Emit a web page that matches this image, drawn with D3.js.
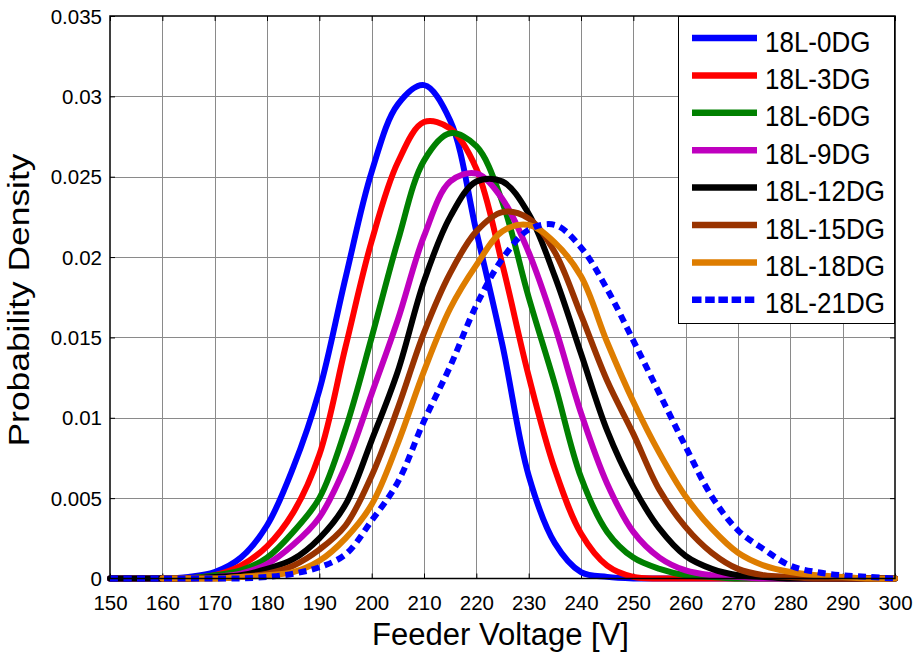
<!DOCTYPE html>
<html>
<head>
<meta charset="utf-8">
<script src="https://cdn.jsdelivr.net/npm/d3@7"></script>
<style>
  html, body { margin: 0; padding: 0; background: #fff; }
  svg { display: block; }
  text { font-family: "Liberation Sans", Arial, Helvetica, sans-serif; fill: #000; }
</style>
</head>
<body>
<svg id="chart" width="917" height="661"></svg>
<script>
// Feeder voltage grid (V)
const voltage = [150,155,160,165,170,175,180,185,190,195,200,205,210,215,220,225,230,235,240,245,250,255,260,265,270,275,280,285,290,295,300];

// Probability density per DG penetration case
const dg0  = [0,0,0,0.0001,0.0004,0.0013,0.0033,0.0069,0.0117,0.0187,0.0253,0.0295,0.0307,0.0285,0.0216,0.0145,0.0064,0.0022,0.0004,0.0001,0,0,0,0,0,0,0,0,0,0,0];
const dg3  = [0,0,0,0,0.0002,0.0008,0.0020,0.0041,0.0077,0.0144,0.0210,0.0259,0.0284,0.0280,0.0255,0.0195,0.0126,0.0068,0.0028,0.0008,0.0001,0,0,0,0,0,0,0,0,0,0];
const dg6  = [0,0,0,0,0.0002,0.0005,0.0013,0.0029,0.0050,0.0093,0.0150,0.0210,0.0260,0.0277,0.0269,0.0234,0.0175,0.0121,0.0063,0.0029,0.0013,0.0006,0.0002,0.0001,0,0,0,0,0,0,0];
const dg9  = [0,0,0,0,0.0001,0.0003,0.0009,0.0021,0.0038,0.0070,0.0115,0.0161,0.0213,0.0247,0.0252,0.0236,0.0203,0.0157,0.0103,0.0059,0.0029,0.0013,0.0005,0.0002,0.0001,0,0,0,0,0,0];
const dg12 = [0,0,0,0,0.0001,0.0002,0.0006,0.0012,0.0025,0.0046,0.0086,0.0129,0.0185,0.0225,0.0247,0.0247,0.0227,0.0188,0.0140,0.0092,0.0057,0.0031,0.0014,0.0006,0.0002,0.0001,0,0,0,0,0];
const dg15 = [null,null,0,0,0,0.0001,0.0003,0.0008,0.0018,0.0033,0.0064,0.0106,0.0153,0.0190,0.0216,0.0228,0.0224,0.0203,0.0164,0.0123,0.0090,0.0055,0.0032,0.0016,0.0006,0.0002,0.0001,0,0,0,0];
const dg18 = [null,null,0,0,0,0.0001,0.0002,0.0004,0.0011,0.0025,0.0046,0.0084,0.0129,0.0168,0.0195,0.0216,0.0220,0.0209,0.0188,0.0147,0.0110,0.0078,0.0051,0.0031,0.0016,0.0008,0.0004,0.0002,0.0001,0,0];
const dg21 = [0,0,0,0,0,0,0.0001,0.0003,0.0007,0.0015,0.0036,0.0060,0.0098,0.0132,0.0170,0.0199,0.0217,0.0220,0.0206,0.0180,0.0148,0.0115,0.0082,0.0051,0.0030,0.0018,0.0008,0.0004,0.0002,0.0001,0];

const seriesNames  = ["18L-0DG","18L-3DG","18L-6DG","18L-9DG","18L-12DG","18L-15DG","18L-18DG","18L-21DG"];
const seriesValues = [dg0, dg3, dg6, dg9, dg12, dg15, dg18, dg21];
const seriesColors = ["#0000ff","#ff0000","#008000","#bf00bf","#000000","#993300","#de7d00","#0000ff"];
const seriesDashed = [false,false,false,false,false,false,false,true];

const xTicks = [150,160,170,180,190,200,210,220,230,240,250,260,270,280,290,300];
const yTicks = [0,0.005,0.01,0.015,0.02,0.025,0.03,0.035];
const yTickLabels = ["0","0.005","0.01","0.015","0.02","0.025","0.03","0.035"];

const xTitle = "Feeder Voltage [V]";
const yTitle = "Probability Density";

// ---- layout ----
const plot = { left: 110, right: 895, top: 16, bottom: 578.5 };
const svg = d3.select("#chart");

const x = d3.scaleLinear().domain([150, 300]).range([plot.left, plot.right]);
const y = d3.scaleLinear().domain([0, 0.035]).range([plot.bottom, plot.top]);

// white plotting area
svg.append("rect")
  .attr("x", plot.left).attr("y", plot.top)
  .attr("width", plot.right - plot.left).attr("height", plot.bottom - plot.top)
  .attr("fill", "#fff");

// grid lines
const grid = svg.append("g").attr("stroke", "#8a8a8a").attr("stroke-width", 1);
grid.selectAll("line.vx").data(xTicks.slice(1, -1)).join("line")
  .attr("x1", d => Math.round(x(d)) + 0.5).attr("x2", d => Math.round(x(d)) + 0.5)
  .attr("y1", plot.top).attr("y2", plot.bottom);
grid.selectAll("line.hy").data(yTicks.slice(1, -1)).join("line")
  .attr("y1", d => Math.round(y(d)) + 0.5).attr("y2", d => Math.round(y(d)) + 0.5)
  .attr("x1", plot.left).attr("x2", plot.right);

// axes: bottom / left carry labels, top / right only inner ticks
const tickLen = 5;
const xAxis = svg.append("g")
  .attr("transform", `translate(0,${plot.bottom})`)
  .call(d3.axisBottom(x).tickValues(xTicks).tickSize(-tickLen).tickSizeOuter(0).tickFormat(d3.format("d")));
const yAxis = svg.append("g")
  .attr("transform", `translate(${plot.left},0)`)
  .call(d3.axisLeft(y).tickValues(yTicks).tickSize(-tickLen).tickSizeOuter(0).tickFormat((d, i) => yTickLabels[i]));
svg.append("g")
  .attr("transform", `translate(0,${plot.top})`)
  .call(d3.axisTop(x).tickValues(xTicks).tickSize(-tickLen).tickSizeOuter(0).tickFormat(""));
svg.append("g")
  .attr("transform", `translate(${plot.right},0)`)
  .call(d3.axisRight(y).tickValues(yTicks).tickSize(-tickLen).tickSizeOuter(0).tickFormat(""));

svg.selectAll(".domain").remove();
svg.selectAll(".tick line").attr("stroke", "#000").attr("stroke-width", 1);

xAxis.selectAll(".tick text")
  .attr("y", 31.5).attr("dy", 0)
  .attr("font-size", 20.5);
yAxis.selectAll(".tick text")
  .attr("x", -8).attr("y", 7).attr("dy", 0)
  .attr("font-size", 20.5)
  .attr("text-anchor", "end");

// curves
const line = d3.line()
  .defined(d => d[1] !== null)
  .x(d => x(d[0]))
  .y(d => y(d[1]))
  .curve(d3.curveCatmullRom.alpha(0.5));

const curves = svg.append("g").attr("fill", "none");
seriesValues.forEach((vals, i) => {
  curves.append("path")
    .datum(voltage.map((v, j) => [v, vals[j]]))
    .attr("d", line)
    .attr("stroke", seriesColors[i])
    .attr("stroke-width", 6)
    .attr("stroke-linejoin", "round")
    .attr("stroke-linecap", seriesDashed[i] ? "butt" : "round")
    .attr("stroke-dasharray", seriesDashed[i] ? "8 5.5" : null);
});

// axes box
svg.append("rect")
  .attr("x", plot.left).attr("y", plot.top)
  .attr("width", plot.right - plot.left).attr("height", plot.bottom - plot.top)
  .attr("fill", "none").attr("stroke", "#000").attr("stroke-width", 1.5);

// legend
const lg = { x: 678, y: 16, w: 216, h: 307, rowY: 38, rowStep: 37.4 };
const legend = svg.append("g");
legend.append("rect")
  .attr("x", lg.x + 0.5).attr("y", lg.y + 0.5)
  .attr("width", lg.w).attr("height", lg.h)
  .attr("fill", "#fff").attr("stroke", "#000").attr("stroke-width", 1);
seriesNames.forEach((name, i) => {
  const cy = lg.rowY + i * lg.rowStep;
  legend.append("line")
    .attr("x1", 692).attr("x2", 757)
    .attr("y1", cy).attr("y2", cy)
    .attr("stroke", seriesColors[i])
    .attr("stroke-width", 6.5)
    .attr("stroke-dasharray", seriesDashed[i] ? "9.5 3.7" : null);
  legend.append("text")
    .attr("transform", `translate(765,${cy + 13.5}) scale(1,1.12)`)
    .attr("font-size", 26)
    .text(name);
});

// axis titles
svg.append("text")
  .attr("x", (plot.left + plot.right) / 2 - 2)
  .attr("y", 645)
  .attr("text-anchor", "middle")
  .attr("font-size", 31)
  .text(xTitle);
svg.append("text")
  .attr("transform", `translate(29,300) rotate(-90)`)
  .attr("text-anchor", "middle")
  .attr("font-size", 30)
  .attr("textLength", 293)
  .attr("lengthAdjust", "spacingAndGlyphs")
  .text(yTitle);
</script>
</body>
</html>
